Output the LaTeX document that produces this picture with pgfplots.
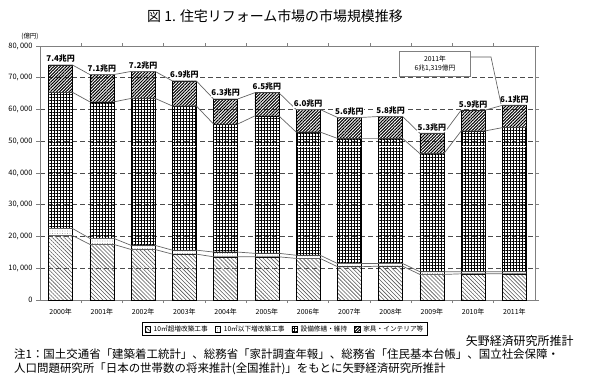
\documentclass[border=0pt]{standalone}
\usepackage{fontspec}
\setmainfont{Noto Sans CJK JP}
\usepackage{pgfplots}
\pgfplotsset{compat=1.18}
\usepackage{pgfplotstable}
\usetikzlibrary{patterns.meta}

\pgfplotstableread{
x A B C D
0 20300 2200 42900 8600
1 17500 1900 43000 8600
2 15900 1300 46300 8500
3 14450 1250 45400 7900
4 13600 1500 40300 7900
5 13600 1100 43300 7300
6 13100 1000 38800 7100
7 10500 1000 39400 6600
8 10650 850 39400 6900
9 8050 850 37200 6400
10 8250 650 44350 6550
11 8250 650 45400 7019
}\segs

\pgfplotstableread{
x c1 c2 c3 c4
-0.29 20300 22500 65400 74000
0.29 20300 22500 65400 74000
0.71 17500 19400 62400 71000
1.29 17500 19400 62400 71000
1.71 15900 17200 63500 72000
2.29 15900 17200 63500 72000
2.71 14450 15700 61100 69000
3.29 14450 15700 61100 69000
3.71 13600 15100 55400 63300
4.29 13600 15100 55400 63300
4.71 13600 14700 58000 65300
5.29 13600 14700 58000 65300
5.71 13100 14100 52900 60000
6.29 13100 14100 52900 60000
6.71 10500 11500 50900 57500
7.29 10500 11500 50900 57500
7.71 10650 11500 50900 57800
8.29 10650 11500 50900 57800
8.71 8050 8900 46100 52500
9.29 8050 8900 46100 52500
9.71 8250 8900 53250 59800
10.29 8250 8900 53250 59800
10.71 8250 8900 54300 61319
11.29 8250 8900 54300 61319
}\serieslines

\pgfplotstableread{
x y lab
0 74000 7.4兆円
1 71000 7.1兆円
2 72000 7.2兆円
3 69000 6.9兆円
4 63300 6.3兆円
5 65300 6.5兆円
6 60000 6.0兆円
7 57500 5.6兆円
8 57800 5.8兆円
9 52500 5.3兆円
10 59800 5.9兆円
11 61319 6.1兆円
}\labs

\begin{document}
\begin{tikzpicture}[x=1bp,y=1bp]
\path (0,0) rectangle (600,391);
\begin{axis}[
  at={(40bp,91bp)}, anchor=south west,
  scale only axis, width=495bp, height=254bp,
  ybar stacked, bar width=0.58,
  xmin=-0.5, xmax=11.5, ymin=0, ymax=80000,
  xtick={0,...,11},
  xticklabels={2000年,2001年,2002年,2003年,2004年,2005年,2006年,2007年,2008年,2009年,2010年,2011年},
  x tick label style={font=\fontsize{7}{8}\selectfont, yshift=-1bp},
  xtick style={draw=none},
  minor xtick={0.5,1.5,...,10.5},
  minor tick length=3bp,
  minor x tick style={draw=gray, line width=0.6bp},
  ytick={0,10000,...,80000},
  ytick style={draw=gray, line width=0.6bp},
  major tick length=4bp,
  tick align=outside,
  y tick label style={font=\fontsize{7.5}{8}\selectfont},
  /pgf/number format/.cd, 1000 sep={,\,}, assume math mode=true, /pgfplots/.cd,
  scaled y ticks=false,
  ymajorgrids,
  major grid style={dash pattern=on 5bp off 3bp, draw=black!70, line width=0.6bp},
  axis line style={draw=gray, line width=1bp},
  legend style={at={(0.495,-0.114)}, anchor=center, legend columns=4,
    font=\fontsize{6.7}{7.2}\selectfont, draw=black, line width=0.6bp, inner xsep=2bp, inner ysep=1bp,
    /tikz/every odd column/.append style={column sep=1bp},
    /tikz/every even column/.append style={column sep=5bp}},
  legend image code/.code={\draw[#1, line width=0.4bp] (0bp,-2.8bp) rectangle (5.6bp,2.8bp);},
]
\addplot[draw=black, line width=0.5bp, pattern={Lines[angle=-45,distance=2.8bp,line width=0.6bp]}, pattern color=black!65] table[x=x,y=A]{\segs};
\addplot[draw=black, line width=0.5bp, pattern={Dots[distance=2.5bp,radius=0.4bp]}, pattern color=black!55] table[x=x,y=B]{\segs};
\addplot[draw=black, line width=0.5bp, pattern={Hatch[angle=0,distance=3bp,line width=0.75bp]}, pattern color=black] table[x=x,y=C]{\segs};
\addplot[draw=black, line width=0.5bp, pattern={Lines[angle=45,distance=2.2bp,line width=1.05bp]}, pattern color=black] table[x=x,y=D]{\segs};
\legend{10㎡超増改築工事,10㎡以下増改築工事,設備修繕・維持,家具・インテリア等}
\end{axis}
\begin{axis}[
  at={(40bp,91bp)}, anchor=south west,
  scale only axis, width=495bp, height=254bp,
  xmin=-0.5, xmax=11.5, ymin=0, ymax=80000,
  hide axis, clip=false,
]
\addplot[black!60, line width=0.7bp] table[x=x,y=c1]{\serieslines};
\addplot[black!60, line width=0.7bp] table[x=x,y=c2]{\serieslines};
\addplot[black!60, line width=0.7bp] table[x=x,y=c3]{\serieslines};
\addplot[black!60, line width=0.7bp] table[x=x,y=c4]{\serieslines};
\addplot[draw=none, mark=none, nodes near coords, point meta=explicit symbolic,
  every node near coord/.style={anchor=south, yshift=1.5bp, fill=white, inner sep=0.6bp,
    font=\bfseries\fontsize{8}{9}\selectfont}]
  table[x=x,y=y,meta=lab]{\labs};
\end{axis}
\node[font=\fontsize{14}{16}\selectfont] at (275,375) {図 1. 住宅リフォーム市場の市場規模推移};
\node[font=\fontsize{6.5}{7}\selectfont] at (30,355) {(億円)};
\node[draw=gray, line width=0.6bp, fill=white, align=center, font=\fontsize{6.8}{9}\selectfont,
  minimum width=71bp, minimum height=25bp, inner sep=1bp] at (435,327.5) {2011年\\6兆1,319億円};
\draw[black!65, line width=0.6bp] (470.5,334) -- (491,334) -- (501,287);
\node[anchor=east, font=\fontsize{12}{14}\selectfont] at (577,50) {矢野経済研究所推計};
\node[anchor=west, font=\fontsize{11.5}{14}\selectfont, inner sep=0pt] at (14,37) {注1：国土交通省「建築着工統計」、総務省「家計調査年報」、総務省「住民基本台帳」、国立社会保障・};
\node[anchor=west, font=\fontsize{11.5}{14}\selectfont, inner sep=0pt] at (14,22) {人口問題研究所「日本の世帯数の将来推計(全国推計)」をもとに矢野経済研究所推計};
\end{tikzpicture}
\end{document}
